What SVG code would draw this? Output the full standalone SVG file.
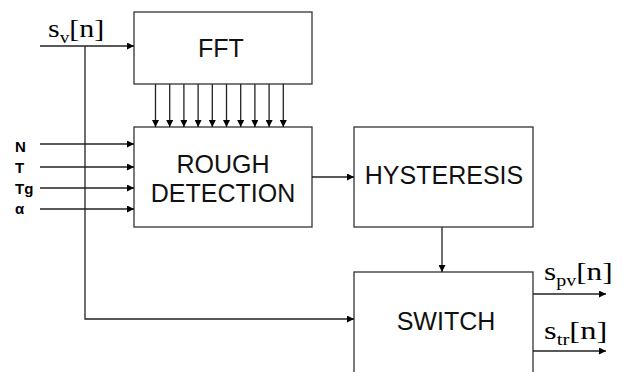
<svg xmlns="http://www.w3.org/2000/svg" width="623" height="372" viewBox="0 0 623 372">
<style>
.box{fill:#fff;stroke:#333;stroke-width:1.3}
.lbl{font-family:"Liberation Sans",Arial,sans-serif;font-size:25px;fill:#111;text-anchor:middle}
.in{font-family:"Liberation Sans",Arial,sans-serif;font-size:15px;font-weight:bold;fill:#000}
.sig{font-family:"Liberation Serif","Times New Roman",serif;font-size:25px;fill:#000}
.sub{font-size:16px}
.c{fill:none;stroke:#222;stroke-width:1.3}
</style>
<defs>
<marker id="ah" viewBox="0 0 10 10" refX="10" refY="5" markerWidth="8" markerHeight="7" markerUnits="userSpaceOnUse" orient="auto">
<path d="M0,0 L10,5 L0,10 Z" fill="#000"/>
</marker>
</defs>
<g id="fft"><rect class="box" x="134" y="12" width="178" height="72"/><text class="lbl" x="221" y="57">FFT</text></g>
<g id="rough"><rect class="box" x="134" y="127" width="178" height="100"/><text class="lbl" x="223" y="173">ROUGH</text><text class="lbl" x="223" y="202">DETECTION</text></g>
<g id="hyst"><rect class="box" x="354" y="127" width="179" height="100"/><text class="lbl" x="444" y="184">HYSTERESIS</text></g>
<g id="switch"><rect class="box" x="354" y="272" width="179" height="110"/><text class="lbl" x="446" y="330">SWITCH</text></g>
<g id="labels">
<text class="sig" transform="translate(48,37) scale(1.2,1)">s<tspan class="sub" dy="6">v</tspan><tspan dy="-6">[n]</tspan></text>
<text class="sig" transform="translate(544,280) scale(1.25,1)">s<tspan class="sub" dy="6">pv</tspan><tspan dy="-6">[n]</tspan></text>
<text class="sig" transform="translate(544,339) scale(1.3,1)">s<tspan class="sub" dy="6">tr</tspan><tspan dy="-6">[n]</tspan></text>
<text class="in" x="15" y="152">N</text>
<text class="in" x="15" y="173">T</text>
<text class="in" x="15" y="194">Tg</text>
<text class="in" x="15" y="214">α</text>
</g>
<g id="connectors">
<line class="c" x1="40" y1="46" x2="134" y2="46" marker-end="url(#ah)"/>
<polyline class="c" points="85,46 85,319 354,319" marker-end="url(#ah)"/>
<line class="c" x1="155.5" y1="84" x2="155.5" y2="127" marker-end="url(#ah)"/>
<line class="c" x1="169.7" y1="84" x2="169.7" y2="127" marker-end="url(#ah)"/>
<line class="c" x1="183.9" y1="84" x2="183.9" y2="127" marker-end="url(#ah)"/>
<line class="c" x1="198.1" y1="84" x2="198.1" y2="127" marker-end="url(#ah)"/>
<line class="c" x1="212.3" y1="84" x2="212.3" y2="127" marker-end="url(#ah)"/>
<line class="c" x1="226.5" y1="84" x2="226.5" y2="127" marker-end="url(#ah)"/>
<line class="c" x1="240.7" y1="84" x2="240.7" y2="127" marker-end="url(#ah)"/>
<line class="c" x1="254.9" y1="84" x2="254.9" y2="127" marker-end="url(#ah)"/>
<line class="c" x1="269.1" y1="84" x2="269.1" y2="127" marker-end="url(#ah)"/>
<line class="c" x1="283.3" y1="84" x2="283.3" y2="127" marker-end="url(#ah)"/>
<line class="c" x1="40" y1="144" x2="134" y2="144" marker-end="url(#ah)"/>
<line class="c" x1="40" y1="167" x2="134" y2="167" marker-end="url(#ah)"/>
<line class="c" x1="40" y1="188" x2="134" y2="188" marker-end="url(#ah)"/>
<line class="c" x1="40" y1="209" x2="134" y2="209" marker-end="url(#ah)"/>
<line class="c" x1="312" y1="177" x2="354" y2="177" marker-end="url(#ah)"/>
<line class="c" x1="442" y1="227" x2="442" y2="272" marker-end="url(#ah)"/>
<line class="c" x1="533" y1="294" x2="606" y2="294" marker-end="url(#ah)"/>
<line class="c" x1="533" y1="351" x2="606" y2="351" marker-end="url(#ah)"/>
</g>
</svg>
